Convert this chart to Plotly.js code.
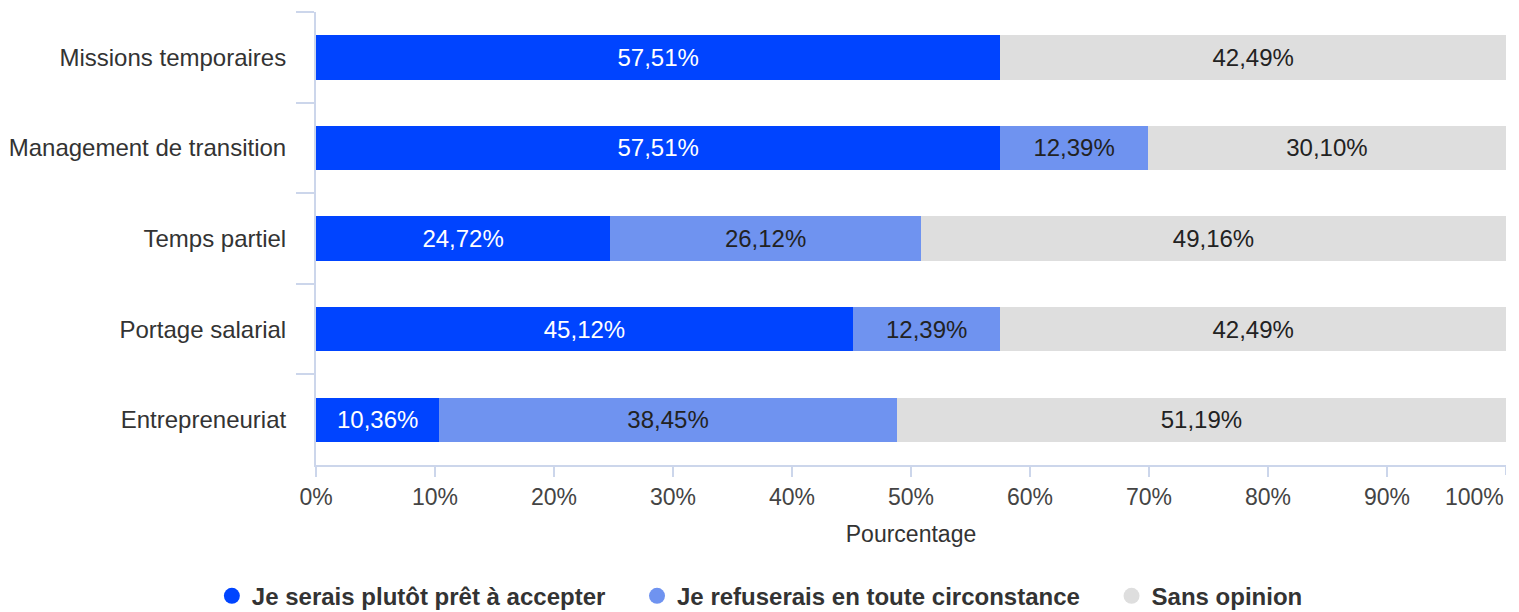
<!DOCTYPE html>
<html>
<head>
<meta charset="utf-8">
<script src="https://cdn.plot.ly/plotly-3.0.1.min.js"></script>
<style>
  html, body { margin: 0; padding: 0; background: #fff; }
  #chart { width: 1519px; height: 612px; }
</style>
</head>
<body>
<div id="chart"></div>
<script>
// Données (en %)
const categories = [
  "Missions temporaires",
  "Management de transition",
  "Temps partiel",
  "Portage salarial",
  "Entrepreneuriat",
];
const seriesNames = [
  "Je serais plutôt prêt à accepter",
  "Je refuserais en toute circonstance",
  "Sans opinion",
];
const accepter = [57.51, 57.51, 24.72, 45.12, 10.36];
const refuser = [null, 12.39, 26.12, 12.39, 38.45];
const sansOpinion = [42.49, 30.10, 49.16, 42.49, 51.19];
const xTicks = [0, 10, 20, 30, 40, 50, 60, 70, 80, 90, 100];

const COLORS = ["#0044ff", "#6f93f0", "#dedede"];
const TEXT_COLORS = ["#ffffff", "#222222", "#222222"];
const AXIS_LINE = "#ccd6eb";
const FONT = "Liberation Sans, Arial, sans-serif";

const fmt = (v) => (v == null ? "" : v.toFixed(2).replace(".", ",") + "%");

const values = [accepter, refuser, sansOpinion];

const bars = values.map((vals, i) => ({
  type: "bar",
  orientation: "h",
  name: seriesNames[i],
  y: categories,
  x: vals,
  width: 0.49,
  marker: { color: COLORS[i], line: { width: 0 } },
  text: vals.map(fmt),
  textposition: "inside",
  insidetextanchor: "middle",
  textangle: 0,
  textfont: { family: FONT, size: 24, color: TEXT_COLORS[i] },
  showlegend: false,
  hoverinfo: "skip",
}));

// entrées de légende avec des pastilles rondes (espaces insécables = écart entre items)
const PAD = "\u00a0\u00a0\u00a0\u00a0";
const legendItems = seriesNames.map((name, i) => ({
  type: "scatter",
  mode: "markers",
  name: i < seriesNames.length - 1 ? name + PAD : name,
  x: [null],
  y: [null],
  marker: { color: COLORS[i], size: 22, symbol: "circle" },
  showlegend: true,
  hoverinfo: "skip",
}));

const layout = {
  width: 1519,
  height: 612,
  margin: { l: 316, r: 13, t: 12, b: 147, autoexpand: false },
  paper_bgcolor: "#ffffff",
  plot_bgcolor: "#ffffff",
  barmode: "stack",
  bargap: 0,
  font: { family: FONT, color: "#333333" },
  xaxis: {
    range: [0, 100],
    tickvals: xTicks.slice(0, -1),
    ticktext: xTicks.slice(0, -1).map((t) => t + "%"),
    tickangle: 0,
    automargin: false,
    showgrid: false,
    zeroline: false,
    showline: true,
    linecolor: AXIS_LINE,
    linewidth: 2,
    ticks: "outside",
    ticklen: 10,
    tickwidth: 2,
    tickcolor: AXIS_LINE,
    tickfont: { family: FONT, size: 23, color: "#444444" },
    title: { text: "Pourcentage", font: { family: FONT, size: 23, color: "#333333" }, standoff: 17 },
    fixedrange: true,
  },
  yaxis: {
    type: "category",
    categoryorder: "array",
    categoryarray: categories,
    autorange: "reversed",
    automargin: false,
    showgrid: false,
    zeroline: false,
    showline: true,
    linecolor: AXIS_LINE,
    linewidth: 2,
    ticks: "outside",
    tickson: "boundaries",
    ticklen: 18,
    tickwidth: 2,
    tickcolor: AXIS_LINE,
    ticklabelstandoff: 23,
    tickfont: { family: FONT, size: 24, color: "#333333" },
    fixedrange: true,
  },
  shapes: [
    // dernière graduation (100 %), son étiquette est décalée vers la gauche
    { type: "line", xref: "x", yref: "paper", x0: 100, x1: 100, y0: 0, y1: -10 / 453,
      line: { color: AXIS_LINE, width: 2 } },
  ],
  annotations: [
    { xref: "x", yref: "paper", x: xTicks[xTicks.length - 1], y: 0, yshift: -17,
      xanchor: "right", yanchor: "top", showarrow: false,
      text: xTicks[xTicks.length - 1] + "%",
      font: { family: FONT, size: 23, color: "#444444" } },
  ],
  legend: {
    orientation: "h",
    traceorder: "normal",
    x: 0.373,
    xanchor: "center",
    y: -0.24,
    yanchor: "top",
    font: { family: FONT, size: 24, color: "#333333", weight: "bold" },
    itemsizing: "trace",
    itemclick: false,
    itemdoubleclick: false,
  },
  showlegend: true,
};

Plotly.newPlot("chart", [...bars, ...legendItems], layout, { displayModeBar: false, staticPlot: true });
</script>
</body>
</html>
